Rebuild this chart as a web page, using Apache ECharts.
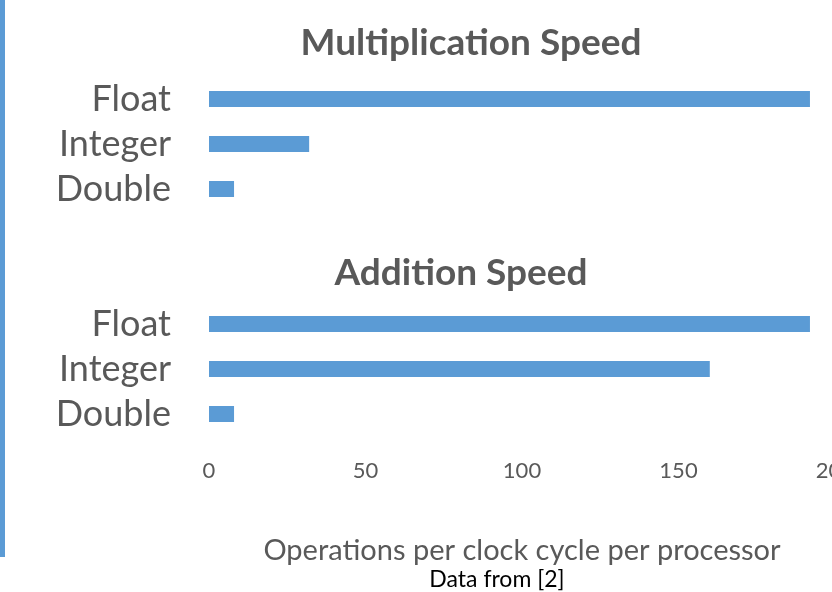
<!DOCTYPE html>
<html>
<head>
<meta charset="utf-8">
<script src="https://cdn.jsdelivr.net/npm/echarts@6/dist/echarts.min.js"></script>
<style>
html,body{margin:0;padding:0;background:#fff;}
#chart{width:832px;height:592px;}
</style>
</head>
<body>
<div id="chart"></div>
<script>
const categories = ['Float', 'Integer', 'Double'];
const multiplicationValues = [192, 32, 8];
const additionValues = [192, 160, 8];
const xTicks = [0, 50, 100, 150, 200];
const titles = ['Multiplication Speed', 'Addition Speed'];
const axisName = 'Operations per clock cycle per processor';
const sourceNote = 'Data from [2]';

const FONT = 'Lato';
const GREY = '#595959';
const BLUE = '#5b9bd5';

const chart = echarts.init(document.getElementById('chart'));

function yAxisCfg(idx) {
  return {
    type: 'category', gridIndex: idx, data: categories, inverse: true,
    axisLine: {show: false}, axisTick: {show: false}, splitLine: {show: false},
    axisLabel: {color: GREY, fontFamily: FONT, fontSize: 36, margin: 38, interval: 0}
  };
}
function xAxisCfg(idx, showLabels) {
  return {
    type: 'value', gridIndex: idx, min: xTicks[0], max: xTicks[xTicks.length - 1], interval: 50,
    axisLine: {show: false}, axisTick: {show: false}, splitLine: {show: false},
    axisLabel: {show: showLabels, color: GREY, fontFamily: FONT, fontSize: 22, margin: 23,
                showMinLabel: true, showMaxLabel: true, hideOverlap: false},
    name: showLabels ? axisName : '', nameLocation: 'middle', nameGap: 100,
    nameTextStyle: {color: GREY, fontFamily: FONT, fontSize: 29}
  };
}

chart.setOption({
  animation: false,
  title: [
    {text: titles[0], left: 466, top: 20, textAlign: 'center',
     textStyle: {color: GREY, fontFamily: FONT, fontWeight: 'bold', fontSize: 37}},
    {text: titles[1], left: 456, top: 250, textAlign: 'center',
     textStyle: {color: GREY, fontFamily: FONT, fontWeight: 'bold', fontSize: 37}},
    {text: sourceNote, left: 492, top: 563, textAlign: 'center',
     textStyle: {color: '#000', fontFamily: FONT, fontWeight: 'normal', fontSize: 23}}
  ],
  graphic: [
    {type: 'rect', shape: {x: 0, y: 0, width: 5, height: 557}, style: {fill: BLUE}}
  ],
  grid: [
    {left: 209, top: 76.5, width: 626, height: 135, containLabel: false, outerBoundsMode: 'none'},
    {left: 209, top: 301.5, width: 626, height: 135, containLabel: false, outerBoundsMode: 'none'}
  ],
  xAxis: [xAxisCfg(0, false), xAxisCfg(1, true)],
  yAxis: [yAxisCfg(0), yAxisCfg(1)],
  series: [
    {type: 'bar', xAxisIndex: 0, yAxisIndex: 0, data: multiplicationValues, barWidth: 16,
     itemStyle: {color: BLUE}},
    {type: 'bar', xAxisIndex: 1, yAxisIndex: 1, data: additionValues, barWidth: 16,
     itemStyle: {color: BLUE}}
  ]
});
</script>
</body>
</html>
